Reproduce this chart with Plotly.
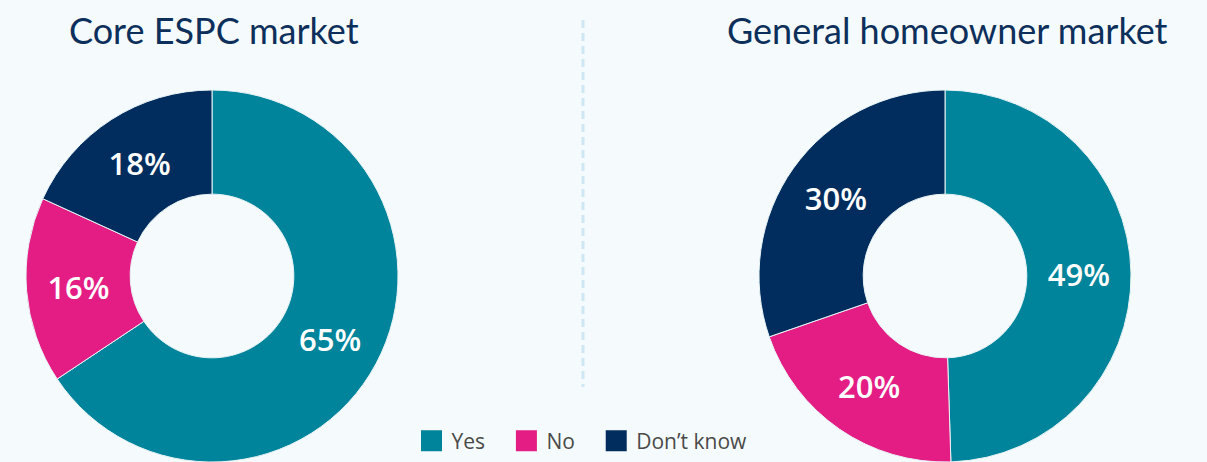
import plotly.graph_objects as go

categories = ["Yes", "No", "Don’t know"]
core_values = [65, 16, 18]
general_values = [49, 20, 30]
titles = ["Core ESPC market", "General homeowner market"]
colors = ["#00849b", "#e31d84", "#002d5d"]

W, H = 1207, 462
BG = "#f5fbfc"

def px_x(x):
    return x / W

def px_y(y):
    return 1 - y / H

fig = go.Figure()

R = 186
for vals, cx in [(core_values, 212), (general_values, 945)]:
    fig.add_trace(go.Pie(
        labels=categories,
        values=vals,
        text=[f"{v}%" for v in vals],
        texttemplate="%{text}",
        textinfo="text",
        textposition="inside",
        insidetextorientation="horizontal",
        textfont=dict(family="Open Sans", size=31, color="white", weight=600),
        hole=0.44,
        sort=False,
        direction="clockwise",
        rotation=0,
        marker=dict(colors=colors, line=dict(color="#e8f4f6", width=1)),
        domain=dict(x=[px_x(cx - R), px_x(cx + R)], y=[0, px_y(276 - R)]),
        showlegend=False,
        hoverinfo="label+percent",
    ))

# legend entries (padding keeps the reference's spacing between entries)
pads = ["\u00a0\u00a0\u00a0", "\u00a0\u00a0\u00a0", ""]
for cat, col, pad in zip(categories, colors, pads):
    fig.add_trace(go.Scatter(
        x=[None], y=[None], mode="markers", name=cat + pad,
        marker=dict(symbol="square", size=16, color=col, line=dict(color=col, width=5)),
        showlegend=True,
    ))

annotations = []
for t, cx in zip(titles, [214, 947]):
    annotations.append(dict(
        text=t, x=px_x(cx), y=px_y(30), xref="paper", yref="paper",
        xanchor="center", yanchor="middle", showarrow=False,
        font=dict(family="Lato", size=36, color="#0d2f5b"),
    ))

fig.update_layout(
    width=W, height=H,
    margin=dict(l=0, r=0, t=0, b=0),
    paper_bgcolor=BG, plot_bgcolor=BG,
    xaxis=dict(visible=False), yaxis=dict(visible=False),
    annotations=annotations,
    shapes=[dict(type="line", xref="paper", yref="paper",
                 x0=px_x(583), x1=px_x(583), y0=px_y(20), y1=px_y(387),
                 line=dict(color="#cfe7f3", width=3, dash="8px,5px"))],
    legend=dict(orientation="h", x=px_x(582), xanchor="center",
                y=px_y(441), yanchor="middle",
                font=dict(family="Open Sans", size=21, color="#4a4a4a"),
                bgcolor="rgba(0,0,0,0)", itemclick=False),
)

fig.write_html("out.html")
